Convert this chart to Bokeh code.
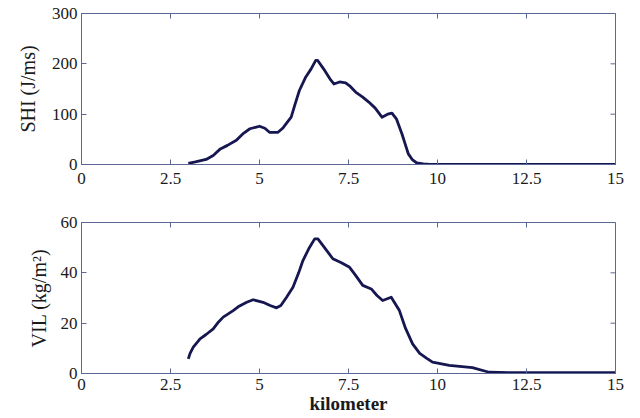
import math
from bokeh.plotting import figure
from bokeh.layouts import column
from bokeh.models import LinearAxis, FixedTicker, Range1d
from bokeh.embed import file_html
from bokeh.resources import INLINE

# SHI curve (J/ms) versus distance (km)
shi_km = [3.0, 3.2, 3.5, 3.7, 3.9, 4.1, 4.35, 4.55, 4.73, 5.0,
          5.15, 5.28, 5.52, 5.65, 5.75, 5.89, 6.0, 6.12, 6.3, 6.45,
          6.58, 6.63, 6.8, 7.0, 7.09, 7.25, 7.42, 7.55, 7.7, 7.9,
          8.07, 8.25, 8.44, 8.6, 8.72, 8.85, 9.0, 9.18, 9.3, 9.42,
          9.6, 9.74, 10, 12, 15]
shi = [2, 5, 10, 18, 31, 38, 48, 62, 71, 76,
       72, 64, 64, 72, 81, 94, 120, 147, 174, 190,
       207, 207, 190, 168, 160, 164, 162, 155, 144, 134,
       124, 112, 94, 100, 102, 90, 61, 21, 9, 3,
       1, 0.5, 0.3, 0.3, 0.3]

# VIL curve (kg/m^2) versus distance (km)
vil_km = [3.0, 3.05, 3.14, 3.33, 3.5, 3.7, 3.85, 3.98, 4.1, 4.26,
          4.4, 4.64, 4.82, 5.1, 5.3, 5.48, 5.6, 5.76, 5.94, 6.1,
          6.22, 6.4, 6.55, 6.64, 6.8, 7.06, 7.3, 7.53, 7.7, 7.9,
          8.14, 8.3, 8.46, 8.7, 8.93, 9.1, 9.3, 9.5, 9.7, 9.86,
          10.33, 10.98, 11.45, 12, 15]
vil = [5.8, 8, 10.5, 13.8, 15.5, 17.7, 20.5, 22.4, 23.5, 25,
       26.5, 28.3, 29.3, 28.3, 27, 26.1, 27, 30.3, 34.3, 40,
       44.9, 50, 53.5, 53.5, 50.5, 45.6, 44, 42.2, 39, 35,
       33.6, 31, 29, 30.3, 25, 18, 11.8, 8, 6, 4.5,
       3.2, 2.3, 0.5, 0.3, 0.3]

x_ticks = [0, 2.5, 5, 7.5, 10, 12.5, 15]
x_tick_labels = {0: "0", 2.5: "2.5", 5: "5", 7.5: "7.5", 10: "10", 12.5: "12.5", 15: "15"}
shi_ticks = [0, 100, 200, 300]
vil_ticks = [0, 20, 40, 60]

FONT = "Liberation Serif"
AXC = "#5b6794"
LINEC = "#161650"
TXT = "#1a1a1a"


def style_axis(ax, ticks, overrides=None):
    ax.ticker = FixedTicker(ticks=ticks)
    ax.axis_line_color = AXC
    ax.major_tick_line_color = AXC
    ax.major_tick_in = 5
    ax.major_tick_out = 0
    ax.minor_tick_line_color = None
    ax.major_label_text_font = FONT
    ax.major_label_text_font_size = "17px"
    ax.major_label_text_color = TXT
    ax.axis_label_text_font = FONT
    ax.axis_label_text_font_size = "20px"
    ax.axis_label_text_font_style = "normal"
    ax.axis_label_text_color = TXT
    if overrides:
        ax.major_label_overrides = overrides


def make_fig(h, top, bottom, left, right, ymax, yticks, ylabel, ystand, xs, ys,
             xlabel=None, xstand=8):
    p = figure(width=640, height=h, output_backend="svg", toolbar_location=None,
               x_range=Range1d(0, 15), y_range=Range1d(0, ymax),
               min_border_left=left, min_border_right=right,
               min_border_top=top, min_border_bottom=bottom,
               x_axis_type=None, y_axis_type=None)
    p.xgrid.visible = False
    p.ygrid.visible = False
    p.outline_line_color = AXC
    p.outline_line_width = 1
    p.background_fill_color = "white"
    p.border_fill_color = "white"

    xb = LinearAxis()
    style_axis(xb, x_ticks, overrides=x_tick_labels)
    xb.major_label_standoff = xstand
    if xlabel:
        xb.axis_label = xlabel
        xb.axis_label_standoff = 0
        xb.axis_label_text_font_size = "19px"
        xb.axis_label_text_font_style = "bold"
    p.add_layout(xb, "below")
    yl = LinearAxis(axis_label=ylabel)
    style_axis(yl, yticks)
    yl.major_label_standoff = 4
    yl.axis_label_standoff = ystand
    p.add_layout(yl, "left")

    # inward ticks on the top and right edges of the box
    p.ray(x=x_ticks, y=[ymax] * len(x_ticks), length=5, length_units="screen",
          angle=-math.pi / 2, line_color=AXC, line_width=1)
    p.ray(x=[15] * len(yticks), y=yticks, length=5, length_units="screen",
          angle=math.pi, line_color=AXC, line_width=1)

    p.line(xs, ys, line_color=LINEC, line_width=2.8, line_join="round")
    return p


p1 = make_fig(198, 13, 34, 77, 25, 300, shi_ticks, "SHI (J/ms)", 10, shi_km, shi)
p2 = make_fig(220, 24, 45, 81, 23, 60, vil_ticks, "VIL (kg/m²)", 8, vil_km, vil,
              xlabel="kilometer", xstand=5)

p = column(p1, p2)
open("out.html", "w").write(file_html(p, INLINE))
